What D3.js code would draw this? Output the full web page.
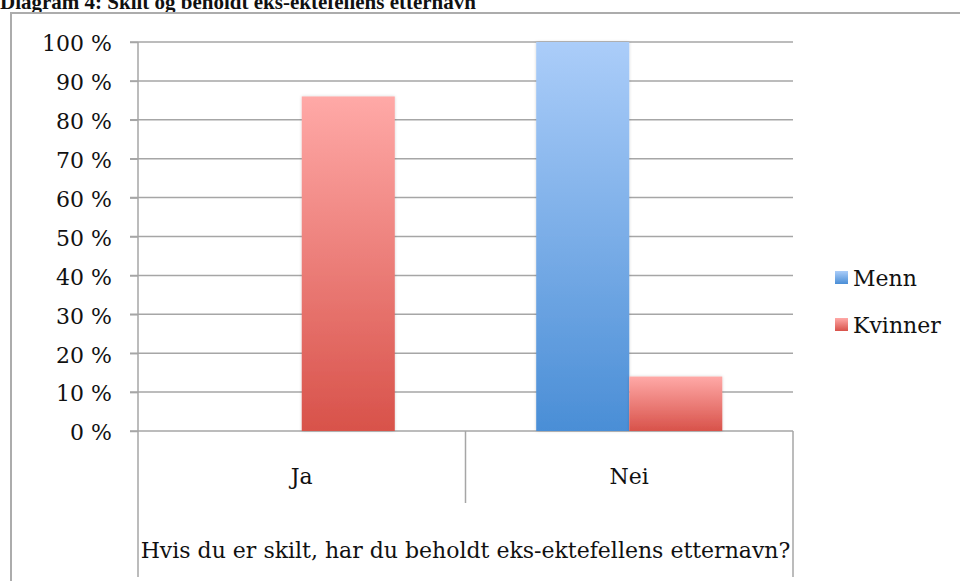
<!DOCTYPE html>
<html>
<head>
<meta charset="utf-8">
<script src="https://cdn.jsdelivr.net/npm/d3@7/dist/d3.min.js"></script>
<style>
  html, body { margin: 0; padding: 0; background: #fff; }
  svg { display: block; }
  text { font-family: "DejaVu Serif", serif; fill: #111; }
</style>
</head>
<body>
<svg id="chart" width="960" height="581"></svg>
<script>
// Data
const categories = ["Ja", "Nei"];
const seriesNames = ["Menn", "Kvinner"];
const menn = [0, 100];
const kvinner = [86, 14];
const yTicks = [0, 10, 20, 30, 40, 50, 60, 70, 80, 90, 100];

const titleText = "Diagram 4: Skilt og beholdt eks-ektefellens etternavn";
const axisTitle = "Hvis du er skilt, har du beholdt eks-ektefellens etternavn?";

const svg = d3.select("#chart");
const W = 960, H = 581;
const FS = 22;

const plot = { left: 138, right: 793, top: 42, bottom: 431 };

const x0 = d3.scaleBand().domain(categories).range([plot.left, plot.right]).paddingInner(0).paddingOuter(0);
const x1 = d3.scaleBand().domain(seriesNames).range([0, x0.bandwidth()]).paddingInner(0).paddingOuter(0.76);
const y = d3.scaleLinear().domain([0, 100]).range([plot.bottom, plot.top]);

// Gradients
const defs = svg.append("defs");
const grads = {
  Menn: ["#abcdf9", "#4a8ed6"],
  Kvinner: ["#ffa9a7", "#d8524a"]
};
Object.entries(grads).forEach(([k, c]) => {
  const g = defs.append("linearGradient").attr("id", "g-" + k)
    .attr("x1", 0).attr("y1", 0).attr("x2", 0).attr("y2", 1);
  g.append("stop").attr("offset", "0%").attr("stop-color", c[0]);
  g.append("stop").attr("offset", "100%").attr("stop-color", c[1]);
});
const shadow = defs.append("filter").attr("id", "shadow").attr("x", "-10%").attr("y", "-10%").attr("width", "120%").attr("height", "120%");
shadow.append("feDropShadow").attr("dx", 0).attr("dy", 0).attr("stdDeviation", 1.5).attr("flood-color", "#000").attr("flood-opacity", 0.18);

// Title (sits at the very top edge of the page)
svg.append("text")
  .attr("x", 0).attr("y", 9)
  .style("font-family", "'Liberation Serif', serif")
  .style("font-size", "21px").style("font-weight", "bold")
  .text(titleText);

// Outer frame
svg.append("path")
  .attr("d", `M11,${H + 2} L11,13 L${W + 2},13`)
  .attr("fill", "none").attr("stroke", "#acacac").attr("stroke-width", 2);

// Gridlines
svg.append("g").selectAll("line").data(yTicks).join("line")
  .attr("x1", plot.left - 8).attr("x2", plot.right)
  .attr("y1", d => y(d)).attr("y2", d => y(d))
  .attr("stroke", "#a6a6a6").attr("stroke-width", 1.5);

// Y axis labels
const yAxis = svg.append("g").attr("transform", `translate(${plot.left},0)`)
  .call(d3.axisLeft(y).tickValues(yTicks).tickFormat(d => d + " %").tickSize(8).tickPadding(18));
yAxis.select(".domain").remove();
yAxis.selectAll(".tick line").attr("stroke", "#a6a6a6").attr("stroke-width", 1.5);
yAxis.selectAll(".tick text")
  .attr("font-size", FS).attr("fill", "#111")
  .attr("dy", "0.4em");

// Axis lines / category frame
const axisG = svg.append("g").attr("stroke", "#a6a6a6").attr("stroke-width", 1.5).attr("fill", "none");
axisG.append("line").attr("x1", plot.left).attr("x2", plot.left).attr("y1", plot.top).attr("y2", 577);
axisG.append("line").attr("x1", plot.right).attr("x2", plot.right).attr("y1", plot.bottom).attr("y2", 577);
axisG.append("line").attr("x1", x0("Nei")).attr("x2", x0("Nei")).attr("y1", plot.bottom).attr("y2", 503);

// Bars
const rows = categories.map((c, i) => ({ cat: c, values: [
  { key: "Menn", v: menn[i] }, { key: "Kvinner", v: kvinner[i] }
]}));
const groups = svg.append("g").selectAll("g").data(rows).join("g")
  .attr("transform", d => `translate(${x0(d.cat)},0)`);
groups.selectAll("rect").data(d => d.values.filter(v => v.v > 0)).join("rect")
  .attr("x", d => x1(d.key))
  .attr("width", x1.bandwidth())
  .attr("y", d => y(d.v))
  .attr("height", d => y(0) - y(d.v))
  .attr("fill", d => `url(#g-${d.key})`)
  .attr("filter", "url(#shadow)");

// Category labels
svg.append("g").selectAll("text").data(categories).join("text")
  .attr("x", d => x0(d) + x0.bandwidth() / 2)
  .attr("y", 484)
  .attr("text-anchor", "middle")
  .attr("font-size", FS)
  .text(d => d);

// Axis title
svg.append("text")
  .attr("x", (plot.left + plot.right) / 2)
  .attr("y", 558)
  .attr("text-anchor", "middle")
  .attr("font-size", FS)
  .text(axisTitle);

// Legend
const legend = svg.append("g").selectAll("g").data(seriesNames).join("g")
  .attr("transform", (d, i) => `translate(835,${271 + i * 47})`);
legend.append("rect").attr("width", 13).attr("height", 13)
  .attr("fill", d => `url(#g-${d})`);
legend.append("text").attr("x", 18).attr("y", 15).attr("font-size", FS).text(d => d);
</script>
</body>
</html>
